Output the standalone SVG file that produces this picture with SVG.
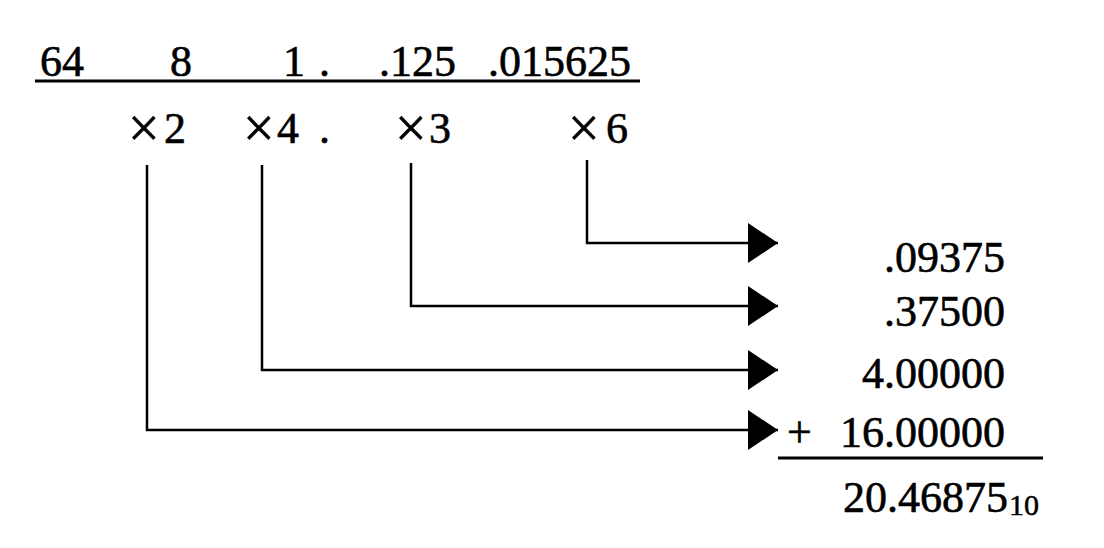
<svg xmlns="http://www.w3.org/2000/svg" width="1104" height="548" viewBox="0 0 1104 548">
<defs>
<style>
.t{font-family:"Liberation Serif","Times New Roman",serif;font-size:44px;fill:#000;stroke:#000;stroke-width:0.6}
.x{font-size:56px}
.s{font-family:"Liberation Serif","Times New Roman",serif;font-size:30px;fill:#000;stroke:#000;stroke-width:0.5}
.c{fill:none;stroke:#000;stroke-width:2.5}
.rule{stroke:#000;stroke-width:3}
</style>
<marker id="ah" viewBox="0 0 30 40" refX="30" refY="20" markerUnits="userSpaceOnUse" markerWidth="30" markerHeight="40" orient="auto">
<path d="M0,0 L30,20 L0,40 Z" fill="#000"/>
</marker>
</defs>
<rect width="1104" height="548" fill="#fff"/>
<g id="header">
<text class="t" y="76"><tspan x="40">64</tspan><tspan x="170">8</tspan><tspan x="283">1</tspan><tspan x="319">.</tspan><tspan x="379">.125</tspan><tspan x="488">.015625</tspan></text>
<line class="rule" x1="35" y1="81" x2="640" y2="81"/>
</g>
<g id="multipliers">
<text class="t"><tspan class="x" x="128" y="147">×</tspan><tspan x="164" y="143">2</tspan><tspan class="x" x="243" y="147">×</tspan><tspan x="277" y="143">4</tspan><tspan x="319" y="143">.</tspan><tspan class="x" x="395" y="147">×</tspan><tspan x="429" y="143">3</tspan><tspan class="x" x="568" y="147">×</tspan><tspan x="606" y="143">6</tspan></text>
</g>
<g id="connectors">
<path class="c" d="M587,160 V243 H778" marker-end="url(#ah)"/>
<path class="c" d="M411,163 V306 H778" marker-end="url(#ah)"/>
<path class="c" d="M262,165 V370 H778" marker-end="url(#ah)"/>
<path class="c" d="M147,165 V430 H778" marker-end="url(#ah)"/>
</g>
<g id="results">
<text class="t" x="1005" y="272" text-anchor="end">.09375</text>
<text class="t" x="1005" y="326" text-anchor="end">.37500</text>
<text class="t" x="1005" y="388" text-anchor="end">4.00000</text>
<text class="t" x="787" y="447">+</text>
<text class="t" x="1005" y="447" text-anchor="end">16.00000</text>
<line class="rule" x1="778" y1="458" x2="1043" y2="458"/>
<text class="t" x="1008" y="512" text-anchor="end">20.46875</text>
<text class="s" x="1009" y="515">10</text>
</g>
</svg>
